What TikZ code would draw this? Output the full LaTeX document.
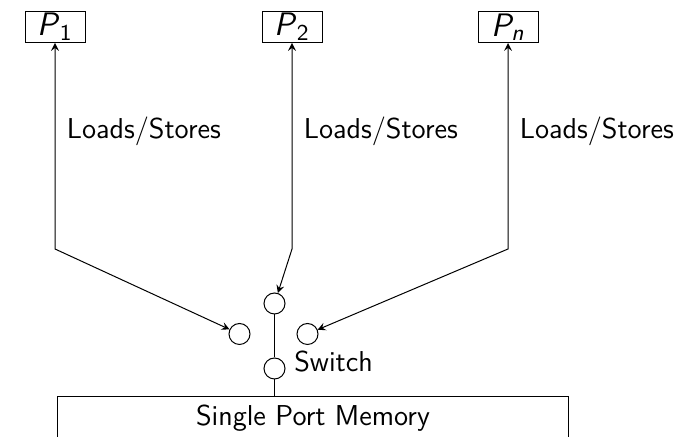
\documentclass[tikz,border=0pt]{standalone}
\usepackage{tikz}
\usetikzlibrary{positioning}
\usetikzlibrary{calc}

\tikzset{
  proc/.style={draw, minimum width=24pt, minimum height=12.4pt, inner sep=0.5pt,
    font=\sffamily\fontsize{13}{14}\selectfont},
  port/.style={draw, circle, minimum size=8.4pt, inner sep=0pt},
  memory/.style={draw, minimum width=204pt, text depth=40pt, anchor=north},
  ldst/.style={right, xshift=1.2pt}
}

\begin{document}
\begin{tikzpicture}[x=0.4pt, y=0.4pt, >=stealth, font=\sffamily\fontsize{11.5}{13}\selectfont]
\useasboundingbox (0,0) rectangle (692,437);

% processors
\node[proc] (p1) at (55,410) {\textit{P}\textsubscript{1}};
\node[proc] (p2) at (292,410) {\textit{P}\textsubscript{2}};
\node[proc] (pn) at (508,410) {\textit{P\textsubscript{n}}};

% switch ports
\node[port] (s1) at (239.5,103) {};
\node[port] (s2) at (274.5,133.5) {};
\node[port] (sn) at (307.5,103) {};
\node[port] (sw) at (274.5,68.5) {};
\node[right=0pt of sw, yshift=2.6pt] (swlabel) {Switch};

% memory
\node[memory] (mem) at (313,41) {Single Port Memory};

% bends
\coordinate (c1) at (55,188);
\coordinate (c2) at (292,188);
\coordinate (cn) at (508,188);

\draw[<->] (p1) -- node[ldst, pos=0.43] (ls1) {Loads/Stores} (c1) -- (s1);
\draw[<->] (p2) -- node[ldst, pos=0.43] (ls2) {Loads/Stores} (c2) -- (s2);
\draw[<->] (pn) -- node[ldst, pos=0.43] (lsn) {Loads/Stores} (cn) -- (sn);

\draw (s2) -- (sw);
\draw (sw) -- (sw |- mem.north);

\end{tikzpicture}
\end{document}
